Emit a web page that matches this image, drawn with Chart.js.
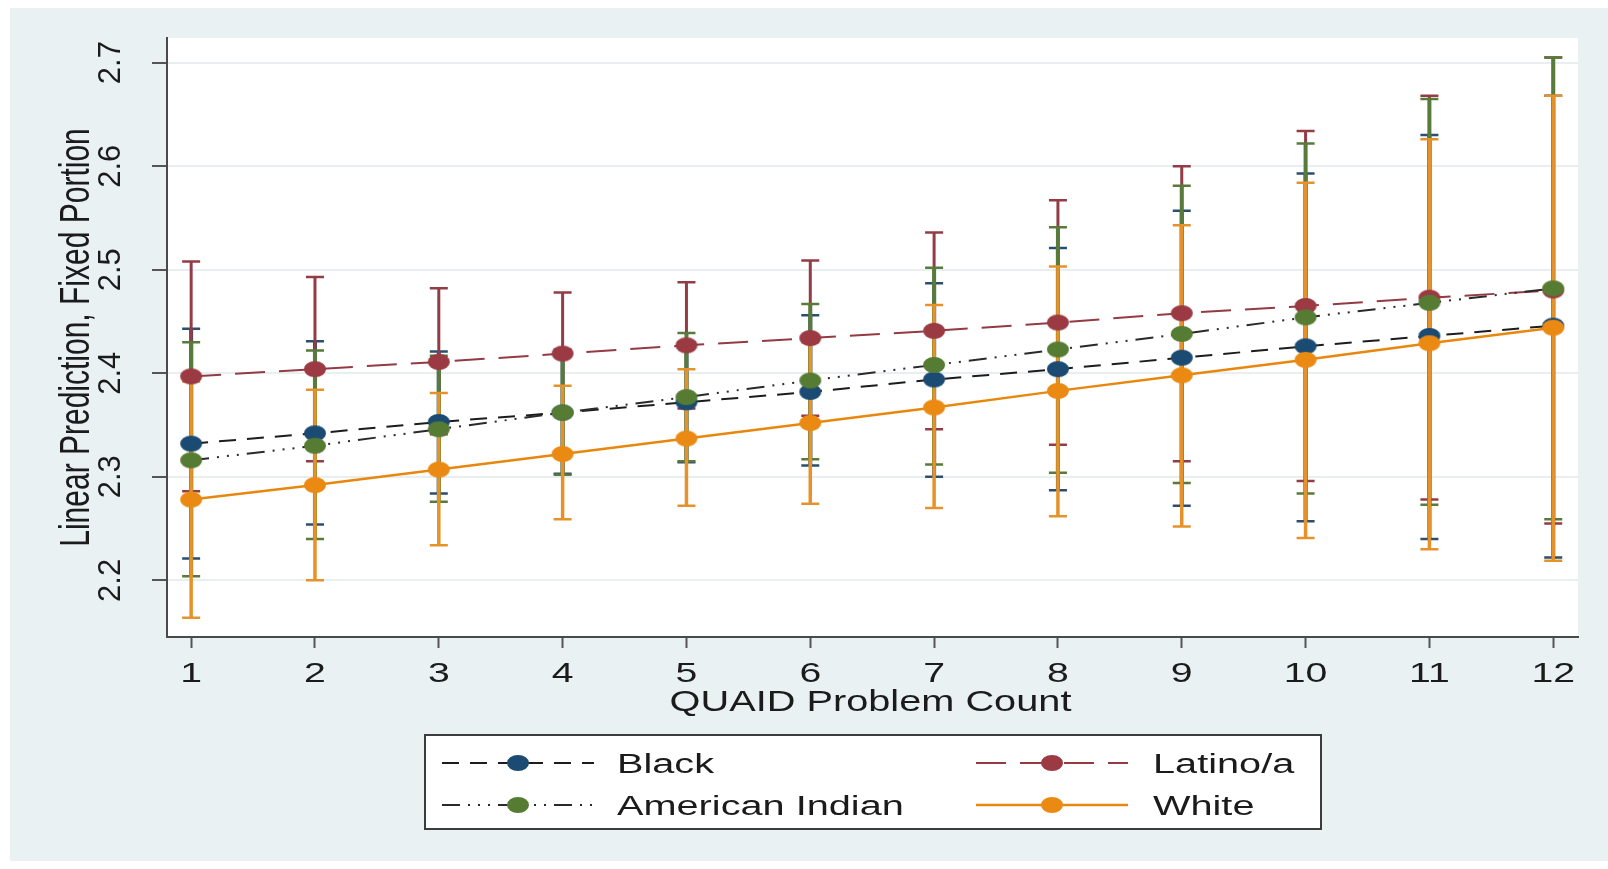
<!DOCTYPE html>
<html>
<head>
<meta charset="utf-8">
<script src="https://cdn.jsdelivr.net/npm/chart.js@4.4.0/dist/chart.umd.min.js"></script>
<style>
  html, body { margin: 0; padding: 0; background: #fff; }
  #wrap { width: 1608px; height: 869px; }
</style>
</head>
<body>
<div id="wrap"><canvas id="chart" width="1608" height="869"></canvas></div>
<script>
// QUAID problem count (x) and y tick values
const problemCounts = [1, 2, 3, 4, 5, 6, 7, 8, 9, 10, 11, 12];
const yTickValues = [2.2, 2.3, 2.4, 2.5, 2.6, 2.7];

// linear predictions with 95% CI
const blackFit  = [2.332, 2.342, 2.353, 2.362, 2.372, 2.382, 2.394, 2.404, 2.415, 2.426, 2.436, 2.446];
const blackLow  = [2.221, 2.254, 2.284, 2.303, 2.314, 2.311, 2.300, 2.287, 2.272, 2.257, 2.240, 2.222];
const blackHigh = [2.443, 2.431, 2.421, 2.421, 2.430, 2.456, 2.487, 2.521, 2.557, 2.593, 2.630, 2.668];

const latinoFit  = [2.397, 2.404, 2.411, 2.419, 2.427, 2.434, 2.441, 2.449, 2.458, 2.465, 2.473, 2.480];
const latinoLow  = [2.286, 2.315, 2.341, 2.361, 2.366, 2.359, 2.346, 2.331, 2.315, 2.296, 2.278, 2.255];
const latinoHigh = [2.508, 2.493, 2.482, 2.478, 2.488, 2.509, 2.536, 2.567, 2.600, 2.634, 2.668, 2.705];

const amIndFit  = [2.316, 2.330, 2.346, 2.362, 2.377, 2.393, 2.408, 2.423, 2.438, 2.454, 2.468, 2.482];
const amIndLow  = [2.204, 2.240, 2.276, 2.302, 2.315, 2.317, 2.312, 2.304, 2.294, 2.284, 2.273, 2.259];
const amIndHigh = [2.430, 2.422, 2.417, 2.423, 2.439, 2.467, 2.502, 2.541, 2.581, 2.622, 2.665, 2.705];

const whiteFit  = [2.278, 2.292, 2.307, 2.322, 2.337, 2.352, 2.367, 2.383, 2.398, 2.413, 2.429, 2.444];
const whiteLow  = [2.164, 2.200, 2.234, 2.259, 2.272, 2.274, 2.270, 2.262, 2.252, 2.241, 2.230, 2.219];
const whiteHigh = [2.392, 2.384, 2.381, 2.388, 2.404, 2.430, 2.466, 2.503, 2.543, 2.584, 2.626, 2.668];

const FONT = "'Liberation Sans', Arial, sans-serif";
const TEXT = '#1b1b1b';

// elliptical markers (the source image is stretched sideways)
function dot(color) {
  const c = document.createElement('canvas');
  c.width = 24; c.height = 18;
  const g = c.getContext('2d');
  g.fillStyle = color;
  g.beginPath();
  g.ellipse(12, 9, 11, 8, 0, 0, Math.PI * 2);
  g.fill();
  return c;
}

function series(label, fit, low, high, opts) {
  return {
    label: label,
    data: problemCounts.map((c, i) => ({ x: c, y: fit[i] })),
    ciLow: low,
    ciHigh: high,
    borderColor: opts.line,
    borderDash: opts.dash,
    borderWidth: opts.width || 2,
    barColor: opts.bar,
    barWidth: opts.barWidth || 4,
    pointStyle: dot(opts.marker),
    pointRadius: 11,
    fill: false,
    tension: 0,
    order: opts.order,
  };
}

const datasets = [
  series('Black', blackFit, blackLow, blackHigh,
    { line: '#1c1c1c', dash: [17, 11], marker: '#1b4b73', bar: '#2c4f70', order: 4 }),
  series('Latino/a', latinoFit, latinoLow, latinoHigh,
    { line: '#933a43', dash: [30, 14], marker: '#9b3a43', bar: '#933c45', barWidth: 3, order: 3 }),
  series('American Indian', amIndFit, amIndLow, amIndHigh,
    { line: '#2a2a2a', dash: [18, 8, 2, 8, 2, 8, 2, 8], marker: '#567c34', bar: '#587a3a', order: 2 }),
  series('White', whiteFit, whiteLow, whiteHigh,
    { line: '#e8870e', dash: [], width: 2.5, marker: '#eb8a12', bar: '#e5922a', barWidth: 3.5, order: 1 }),
];

const backgroundPlugin = {
  id: 'stataBackground',
  beforeDraw(chart) {
    const { ctx, chartArea: a } = chart;
    ctx.save();
    ctx.fillStyle = '#ffffff';
    ctx.fillRect(0, 0, chart.width, chart.height);
    ctx.fillStyle = '#eaf1f3';
    ctx.fillRect(10, 8, chart.width - 10, 853);
    ctx.fillStyle = '#ffffff';
    ctx.fillRect(a.left, a.top, a.right - a.left, a.bottom - a.top);
    ctx.restore();
  }
};

const errorBarPlugin = {
  id: 'errorBars',
  beforeDatasetsDraw(chart) {
    const { ctx, scales: { x, y } } = chart;
    ctx.save();
    ctx.lineCap = 'butt';
    chart.data.datasets.forEach(ds => {
      ctx.strokeStyle = ds.barColor;
      problemCounts.forEach((c, i) => {
        const px = x.getPixelForValue(c);
        const top = y.getPixelForValue(ds.ciHigh[i]);
        const bot = y.getPixelForValue(ds.ciLow[i]);
        ctx.lineWidth = ds.barWidth;
        ctx.beginPath();
        ctx.moveTo(px, top);
        ctx.lineTo(px, bot);
        ctx.stroke();
        ctx.lineWidth = 2.5;
        ctx.beginPath();
        ctx.moveTo(px - 9, top); ctx.lineTo(px + 9, top);
        ctx.moveTo(px - 9, bot); ctx.lineTo(px + 9, bot);
        ctx.stroke();
      });
    });
    ctx.restore();
  }
};

// axis labels, titles and the boxed two-column legend
const textPlugin = {
  id: 'stataText',
  afterDraw(chart) {
    const { ctx, scales: { x, y } } = chart;
    ctx.save();
    ctx.fillStyle = TEXT;
    ctx.textBaseline = 'alphabetic';
    ctx.textAlign = 'center';

    // y tick labels, rotated
    ctx.font = '31px ' + FONT;
    yTickValues.forEach(v => {
      ctx.save();
      ctx.translate(120, y.getPixelForValue(v));
      ctx.rotate(-Math.PI / 2);
      ctx.fillText(v.toFixed(1), 0, 0);
      ctx.restore();
    });

    // y title
    ctx.save();
    ctx.font = '30px ' + FONT;
    ctx.translate(89, (chart.chartArea.top + chart.chartArea.bottom) / 2);
    ctx.rotate(-Math.PI / 2);
    ctx.scale(1, 1.42);
    ctx.fillText('Linear Prediction, Fixed Portion', 0, 0);
    ctx.restore();

    // x tick labels
    ctx.font = '28px ' + FONT;
    problemCounts.forEach(c => {
      ctx.save();
      ctx.translate(x.getPixelForValue(c), 682);
      ctx.scale(1.4, 1);
      ctx.fillText(String(c), 0, 0);
      ctx.restore();
    });

    // x title
    ctx.save();
    ctx.font = '29px ' + FONT;
    ctx.translate((chart.chartArea.left + chart.chartArea.right) / 2 - 2, 711);
    ctx.scale(1.37, 1);
    ctx.fillText('QUAID Problem Count', 0, 0);
    ctx.restore();

    // legend box
    ctx.fillStyle = '#ffffff';
    ctx.fillRect(425, 735, 896, 94);
    ctx.strokeStyle = '#3c3c3c';
    ctx.lineWidth = 2;
    ctx.strokeRect(425, 735, 896, 94);

    const cols = [{ x0: 442, x1: 594, text: 617 }, { x0: 976, x1: 1128, text: 1153 }];
    const rows = [763, 805];
    chart.data.datasets.forEach((ds, i) => {
      const col = cols[i % 2];
      const cy = rows[Math.floor(i / 2)];
      ctx.save();
      ctx.strokeStyle = ds.borderColor;
      ctx.lineWidth = ds.borderWidth;
      ctx.setLineDash(ds.borderDash);
      ctx.beginPath();
      ctx.moveTo(col.x0, cy);
      ctx.lineTo(col.x1, cy);
      ctx.stroke();
      ctx.restore();
      const img = ds.pointStyle;
      const mx = (col.x0 + col.x1) / 2;
      ctx.drawImage(img, mx - img.width / 2, cy - img.height / 2);
      ctx.save();
      ctx.fillStyle = TEXT;
      ctx.textAlign = 'left';
      ctx.font = '27px ' + FONT;
      ctx.translate(col.text, cy + 10);
      ctx.scale(1.47, 1);
      ctx.fillText(ds.label, 0, 0);
      ctx.restore();
    });
    ctx.restore();
  }
};

new Chart(document.getElementById('chart'), {
  type: 'line',
  data: { datasets: datasets },
  options: {
    responsive: false,
    animation: false,
    events: [],
    layout: { padding: { left: 152, top: 38, right: 30, bottom: 221 } },
    plugins: {
      legend: { display: false },
      tooltip: { enabled: false },
    },
    scales: {
      x: {
        type: 'linear',
        min: 0.805,
        max: 12.2,
        afterBuildTicks: s => { s.ticks = problemCounts.map(v => ({ value: v })); },
        ticks: { display: false },
        grid: { drawOnChartArea: false, drawTicks: true, tickLength: 11, tickColor: '#555555', tickWidth: 2 },
        border: { display: true, color: '#4a4a4a', width: 2 },
      },
      y: {
        type: 'linear',
        min: 2.1453,
        max: 2.7238,
        afterBuildTicks: s => { s.ticks = yTickValues.map(v => ({ value: v })); },
        ticks: { display: false },
        grid: { color: '#e9eff1', lineWidth: 2, drawTicks: true, tickLength: 15, tickColor: '#555555', tickWidth: 2 },
        border: { display: true, color: '#4a4a4a', width: 2 },
      }
    }
  },
  plugins: [backgroundPlugin, errorBarPlugin, textPlugin],
});
</script>
</body>
</html>
